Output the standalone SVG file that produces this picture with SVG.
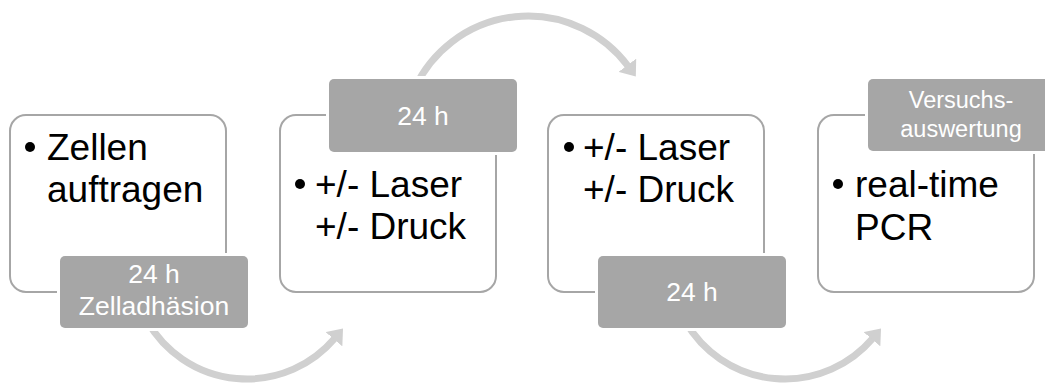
<svg xmlns="http://www.w3.org/2000/svg" width="1045" height="383" viewBox="0 0 1045 383">
<style>
.box{fill:#ffffff;stroke:#a6a6a6;stroke-width:2}
.lab{fill:#a6a6a6;stroke:#ffffff;stroke-width:6;paint-order:stroke}
.main{font-family:"Liberation Sans",Arial,sans-serif;font-size:37px;fill:#000000}
.lt{font-family:"Liberation Sans",Arial,sans-serif;font-size:26.5px;fill:#ffffff;text-anchor:middle}
.lt4{font-family:"Liberation Sans",Arial,sans-serif;font-size:23.5px;fill:#ffffff;text-anchor:middle}
.arc{fill:none;stroke:#d0d0d0;stroke-width:7}
</style>
<defs>
<marker id="ah" markerUnits="userSpaceOnUse" markerWidth="14" markerHeight="22" viewBox="0 0 14 22" refX="1" refY="11" orient="auto">
<path d="M0,0 L14,11 L0,22 Z" fill="#d0d0d0"/>
</marker>
</defs>
<g id="connectors">
<path class="arc" d="M147.4,321.5 A115,115 0 0 0 334.6,338.5" marker-end="url(#ah)"/>
<path class="arc" d="M414.7,88.2 A125,125 0 0 1 628,66" marker-end="url(#ah)"/>
<path class="arc" d="M685.4,321.5 A115,115 0 0 0 872.6,338.5" marker-end="url(#ah)"/>
</g>
<g id="node1">
<rect class="box" x="10" y="115" width="216" height="177" rx="16"/>
<circle cx="30" cy="147" r="5"/>
<text class="main" x="47" y="160">Zellen</text>
<text class="main" x="47" y="202">auftragen</text>
<rect class="lab" x="60" y="256" width="188" height="72" rx="5"/>
<text class="lt" x="154" y="283">24 h</text>
<text class="lt" x="154" y="315">Zelladhäsion</text>
</g>
<g id="node2">
<rect class="box" x="280" y="115" width="216" height="177" rx="16"/>
<circle cx="300" cy="184" r="5"/>
<text class="main" x="315" y="197">+/- Laser</text>
<text class="main" x="315" y="239">+/- Druck</text>
<rect class="lab" x="329" y="79" width="188" height="73" rx="5"/>
<text class="lt" x="423" y="125">24 h</text>
</g>
<g id="node3">
<rect class="box" x="548" y="115" width="216" height="177" rx="16"/>
<circle cx="569" cy="147" r="5"/>
<text class="main" x="583" y="160">+/- Laser</text>
<text class="main" x="583" y="202">+/- Druck</text>
<rect class="lab" x="598" y="256" width="188" height="72" rx="5"/>
<text class="lt" x="692" y="301">24 h</text>
</g>
<g id="node4">
<rect class="box" x="818" y="115" width="216" height="177" rx="16"/>
<circle cx="838" cy="184" r="5"/>
<text class="main" x="855" y="197">real-time</text>
<text class="main" x="855" y="240">PCR</text>
<rect class="lab" x="868" y="79" width="188" height="72" rx="5"/>
<text class="lt4" x="961" y="108">Versuchs-</text>
<text class="lt4" x="961" y="137">auswertung</text>
</g>
</svg>
